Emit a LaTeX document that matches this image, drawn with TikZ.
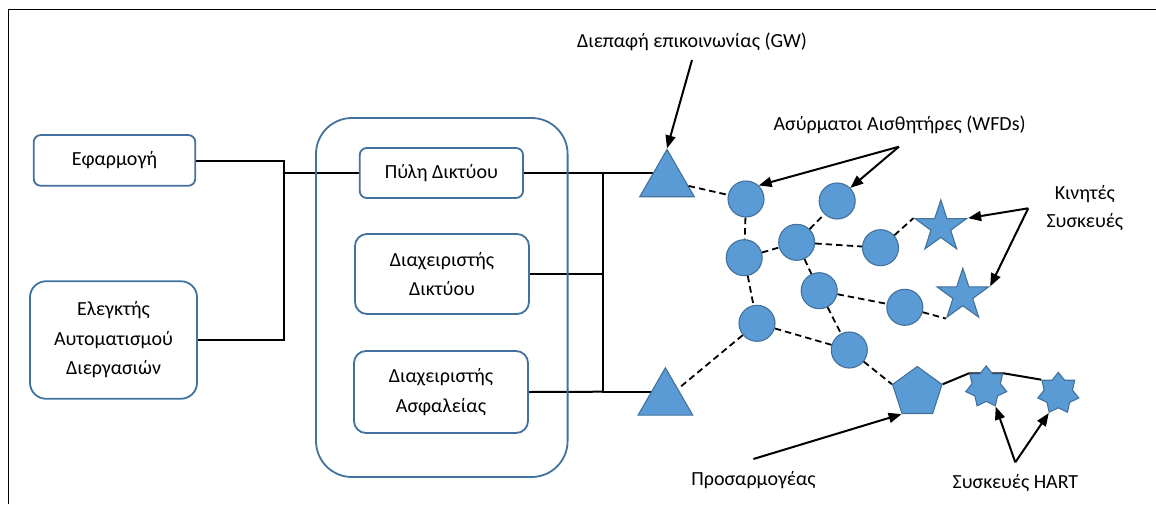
\documentclass[tikz,border=0pt]{standalone}
\usepackage{fontspec}
\setmainfont{Carlito}
\usetikzlibrary{shapes.geometric,arrows.meta,backgrounds}
\definecolor{shapefill}{HTML}{5B9BD5}
\definecolor{shapeline}{HTML}{41719C}
\definecolor{boxline}{HTML}{41719C}
\tikzset{
 box/.style={draw=boxline, line width=1.8pt, rounded corners=7pt, align=center, inner sep=0pt, font=\fontsize{20}{29.5}\selectfont},
 dev/.style={draw=shapeline, fill=shapefill, line width=1.1pt, inner sep=0pt},
 wfd/.style={dev, circle, minimum size=36pt},
 gwtri/.style={dev, regular polygon, regular polygon sides=3, minimum size=63pt},
 mobstar/.style={dev, star, star points=5, star point ratio=2.6, minimum size=54pt},
 hartstar/.style={dev, star, star points=7, star point ratio=1.45, minimum size=42pt},
 adapter/.style={dev, regular polygon, regular polygon sides=5, minimum size=52pt},
 wire/.style={line width=2pt},
 radio/.style={line width=1.8pt, dash pattern=on 6.5pt off 4pt},
 pointer/.style={line width=2pt, -{Triangle[length=13pt,width=10pt]}},
 lbl/.style={font=\fontsize{20}{27.5}\selectfont, align=center, inner sep=0pt},
}
\begin{document}
\begin{tikzpicture}[x=1pt,y=-1pt]
\useasboundingbox (0,0) rectangle (1156,504);
\draw[line width=1.8pt] (8.4,504) -- (8.4,9.5) -- (1156,9.5);

% left boxes
\node[box, minimum width=161.5pt, minimum height=50.7pt] (app) at (114.5,160.4) {Εφαρμογή};
\node[box, rounded corners=16pt, minimum width=167pt, minimum height=117.5pt] (plc) at (113.5,340) {Ελεγκτής\\Αυτοματισμού\\Διεργασιών};
% container
\node[draw=boxline, line width=1.8pt, rounded corners=36pt, minimum width=251.6pt, minimum height=359pt] (cont) at (441.8,297.5) {};
\node[box, minimum width=163.3pt, minimum height=50pt] (gw) at (441.4,173) {Πύλη Δικτύου};
\node[box, rounded corners=12pt, minimum width=174pt, minimum height=80pt] (nm) at (442,274) {Διαχειριστής\\Δικτύου};
\node[box, rounded corners=12pt, minimum width=174pt, minimum height=82pt] (sm) at (441,392) {Διαχειριστής\\Ασφαλείας};

% field devices
\node[gwtri] (tri1) at (667,181) {};
\node[gwtri] (tri2) at (665.4,399.3) {};
\node[wfd] (c1) at (746,199) {};
\node[wfd] (c2) at (837.2,201) {};
\node[wfd] (c3) at (744.2,257.7) {};
\node[wfd] (c4) at (796.7,242.3) {};
\node[wfd] (c5) at (880.5,247.7) {};
\node[wfd] (c6) at (819.2,290.7) {};
\node[wfd] (c7) at (904.8,307.3) {};
\node[wfd] (c8) at (757,323.3) {};
\node[wfd] (c9) at (849.3,350) {};
\node[mobstar] (s1) at (940.8,227) {};
\node[mobstar] (s2) at (962.8,295.3) {};
\node[adapter] (pent) at (917.3,392.5) {};
\node[hartstar] (h1) at (986.2,386.9) {};
\node[hartstar] (h2) at (1058.3,393.3) {};

% wired connections
\coordinate (ja) at (283.6,160.7);
\coordinate (jb) at (283.6,173);
\coordinate (bus1) at (602.8,173);
\coordinate (bus2) at (602.8,274);
\coordinate (bus3) at (602.8,391.7);
\begin{scope}[on background layer]
\draw[wire] (app.east |- ja) -- (ja) -- (ja |- plc.east) -- (plc.east);
\draw[wire] (jb) -- (gw.west);
\draw[wire] (gw.east) -- (bus1) -- (tri1.center |- bus1);
\draw[wire] (bus1) -- (bus3) -- (tri2.center |- bus3);
\draw[wire] (nm.east) -- (bus2);
\draw[wire] (sm.east) -- (bus3);
\draw[wire] (pent.corner 5) -- (h1.outer point 2) -- (h1.outer point 7) -- (h2.outer point 2);
\end{scope}

% wireless links
\draw[radio] (tri1) -- (c1);
\draw[radio] (c1) -- (c3);
\draw[radio] (c3) -- (c4);
\draw[radio] (c4) -- (c2);
\draw[radio] (c4) -- (c5);
\draw[radio] (c5) -- (s1.outer point 2);
\draw[radio] (c4) -- (c6);
\draw[radio] (c6) -- (c7);
\draw[radio] (c7) -- (s2.outer point 3);
\draw[radio] (c6) -- (c9);
\draw[radio] (c3) -- (c8);
\draw[radio] (c8) -- (c9);
\draw[radio] (c8) -- (tri2);
\draw[radio] (c9) -- (pent.corner 2);

% labels
\node[lbl] (gwlbl) at (692,41.7) {Διεπαφή επικοινωνίας (GW)};
\node[lbl] (wfdlbl) at (899.6,125) {Ασύρματοι Αισθητήρες (WFDs)};
\node[lbl] (moblbl) at (1084.8,208) {Κινητές\\Συσκευές};
\node[lbl] (adlbl) at (753.5,480) {Προσαρμογέας};
\node[lbl] (hartlbl) at (1015.4,483.3) {Συσκευές HART};

\coordinate (pgw) at (692,60);
\coordinate (pwfd) at (898.9,146.7);
\coordinate (pmob) at (1028.2,208.3);
\coordinate (pad) at (753.4,459);
\coordinate (phart) at (1015.3,462.3);

\draw[pointer] (pgw) -- (tri1.corner 1);
\draw[pointer] (pwfd) -- (c1.47);
\draw[pointer] (pwfd) -- (c2.45);
\draw[pointer] (pmob) -- (s1.outer point 5);
\draw[pointer] (pmob) -- (s2.outer point 5);
\draw[pointer] (pad) -- (pent.corner 3);
\draw[pointer] (phart) -- (h1.outer point 5);
\draw[pointer] (phart) -- (h2.outer point 4);
\end{tikzpicture}
\end{document}
